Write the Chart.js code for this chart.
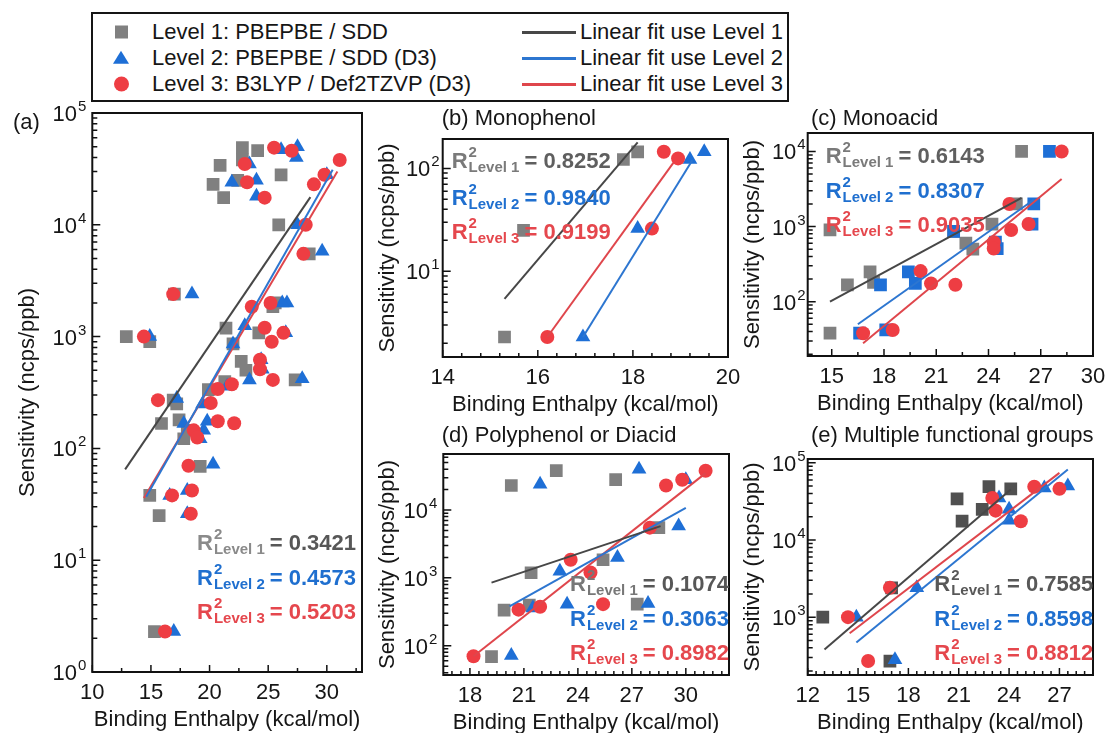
<!DOCTYPE html>
<html>
<head>
<meta charset="utf-8">
<script src="https://cdn.jsdelivr.net/npm/chart.js@4.4.1/dist/chart.umd.min.js"></script>
<style>
    body { margin: 0; background: #fff; }
    #page { position: relative; width: 1107px; height: 733px; overflow: hidden; background: #fff;
            font-family: "Liberation Sans", Arial, sans-serif; color: #161616; }
    canvas { position: absolute; }
    .txt { position: absolute; font-size: 22px; line-height: 22px; white-space: nowrap; }
    #legend { position: absolute; left: 91px; top: 12px; width: 694px; height: 86px; border: 2px solid #151515; }
    .mk { position: absolute; }
    .ln { position: absolute; height: 3px; width: 54px; }
</style>
</head>
<body>
<div id="page">
    <div id="legend"></div>
</div>
<script>
// values: [binding enthalpy (kcal/mol), sensitivity (ncps/ppb)]
const levelNames = ['Level 1: PBEPBE / SDD', 'Level 2: PBEPBE / SDD (D3)', 'Level 3: B3LYP / Def2TZVP (D3)'];
const fitNames = ['Linear fit use Level 1', 'Linear fit use Level 2', 'Linear fit use Level 3'];

const monophenolL1 = [[15.3, 2.3], [15.7, 25], [17.8, 122], [18.1, 145]];
const monophenolL2 = [[16.95, 2.3], [18.1, 26], [19.2, 122], [19.5, 145]];
const monophenolL3 = [[16.2, 2.3], [18.4, 26], [18.65, 145], [18.95, 125]];

const monoacidL1 = [[14.9, 900], [14.9, 38], [15.9, 167], [17.2, 250], [17.4, 180], [22.0, 860], [22.7, 600], [23.1, 500], [24.2, 1080], [25.6, 2000], [25.9, 10000]];
const monoacidL2 = [[16.6, 38], [18.1, 42], [17.8, 167], [19.4, 250], [19.8, 175], [22.0, 860], [24.4, 620], [24.5, 510], [26.5, 1080], [26.6, 2000], [27.5, 10000]];
const monoacidL3 = [[16.8, 38], [18.5, 42], [20.1, 255], [20.7, 175], [22.1, 168], [24.3, 620], [24.3, 510], [25.2, 2000], [25.3, 900], [26.3, 1080], [28.2, 10000]];

const polyL1 = [[20.3, 23000], [22.8, 38000], [26.1, 28000], [21.4, 1190], [19.9, 335], [21.3, 395], [19.2, 69], [25.4, 1850], [28.5, 5500], [27.3, 410]];
const polyL2 = [[21.9, 24000], [27.4, 40000], [30.0, 28000], [23.0, 1250], [26.2, 2000], [29.6, 5800], [21.5, 360], [23.4, 410], [27.9, 420], [20.3, 72]];
const polyL3 = [[18.2, 70], [20.7, 340], [21.9, 375], [23.6, 1850], [24.7, 1200], [25.4, 410], [28.0, 5500], [28.9, 23000], [29.8, 28000], [31.1, 38000]];

const multiL1 = [[12.9, 1000], [17.0, 2400], [16.9, 270], [20.9, 34000], [21.2, 17500], [22.4, 25000], [22.8, 49000], [24.1, 46000]];
const multiL2 = [[14.9, 1000], [18.5, 2400], [17.2, 280], [23.4, 35000], [24.0, 25000], [24.0, 18000], [26.1, 47000], [27.5, 50000]];
const multiL3 = [[14.4, 1000], [16.9, 2400], [15.6, 270], [23.0, 35000], [23.2, 24000], [24.7, 17500], [25.5, 49000], [27.0, 46000]];

// fit line end points (Level 1, 2, 3)
const allFits = [[[12.8, 65], [28.6, 17700]], [[14.6, 37], [30.5, 31000]], [[14.4, 36], [30.9, 30000]]];
const monophenolFits = [[[15.3, 5.4], [18.1, 179]], [[16.95, 2.3], [19.25, 120]], [[16.2, 2.3], [18.85, 113]]];
const monoacidFits = [[[14.9, 100], [25.9, 2400]], [[16.5, 50], [26.6, 2270]], [[16.8, 28], [28.2, 4300]]];
const polyFits = [[[19.2, 850], [28.6, 5800]], [[20.2, 380], [30.0, 10800]], [[18.2, 70], [31.1, 35000]]];
const multiFits = [[[13.0, 380], [24.1, 45000]], [[14.9, 470], [27.5, 82000]], [[14.5, 620], [27.0, 74000]]];

const allR2 = ['0.3421', '0.4573', '0.5203'];
const monophenolR2 = ['0.8252', '0.9840', '0.9199'];
const monoacidR2 = ['0.6143', '0.8307', '0.9035'];
const polyR2 = ['0.1074', '0.3063', '0.8982'];
const multiR2 = ['0.7585', '0.8598', '0.8812'];

const FONT = '"Liberation Sans", Arial, sans-serif';
const GRAY = '#808080', BLUE = '#1e6fd6', RED = '#ee3d43';
const LINE = ['#474747', '#2d76d0', '#df464c'];
const TXT2 = '#1f6fcf', TXT3 = '#e5474d';

Chart.defaults.font.family = FONT;
Chart.defaults.animation = false;

const page = document.getElementById('page');

// legend
const legend = document.getElementById('legend');
const rowY = [18, 44, 70];
const markerHtml = [
    '<div class="mk" style="left:22px;width:13px;height:13px;background:' + GRAY + ';transform:translateY(-50%)"></div>',
    '<div class="mk" style="left:20px;width:0;height:0;border-left:8px solid transparent;border-right:8px solid transparent;border-bottom:13px solid ' + BLUE + ';transform:translateY(-55%)"></div>',
    '<div class="mk" style="left:21px;width:15px;height:15px;border-radius:50%;background:' + RED + ';transform:translateY(-50%)"></div>'
];
levelNames.forEach((name, i) => {
    const m = document.createElement('div');
    m.style.cssText = 'position:absolute;left:0;top:' + rowY[i] + 'px';
    m.innerHTML = markerHtml[i];
    legend.appendChild(m);
    const t = document.createElement('div');
    t.className = 'txt';
    t.style.left = '59px'; t.style.top = (rowY[i] - 11) + 'px';
    t.textContent = name;
    legend.appendChild(t);
});
fitNames.forEach((name, i) => {
    const l = document.createElement('div');
    l.className = 'ln';
    l.style.left = '429px'; l.style.top = (rowY[i] - 1) + 'px'; l.style.background = LINE[i];
    legend.appendChild(l);
    const t = document.createElement('div');
    t.className = 'txt';
    t.style.left = '487px'; t.style.top = (rowY[i] - 11) + 'px';
    t.textContent = name;
    legend.appendChild(t);
});

function addText(str, left, cy) {
    const t = document.createElement('div');
    t.className = 'txt';
    t.style.left = left + 'px'; t.style.top = (cy - 11) + 'px';
    t.textContent = str;
    page.appendChild(t);
}

const toXY = arr => arr.map(p => ({ x: p[0], y: p[1] }));

function drawR2(ctx, x, yc, lvl, val, cR, cV) {
    ctx.textAlign = 'left';
    ctx.textBaseline = 'alphabetic';
    ctx.font = 'bold 22px ' + FONT;
    ctx.fillStyle = cR;
    ctx.fillText('R', x, yc + 8);
    const rw = ctx.measureText('R').width + 1;
    ctx.font = 'bold 15px ' + FONT;
    ctx.fillText('2', x + rw, yc - 3);
    const sub = 'Level ' + lvl;
    ctx.fillText(sub, x + rw, yc + 12);
    const lw = ctx.measureText(sub).width;
    ctx.font = 'bold 22px ' + FONT;
    ctx.fillStyle = cV;
    ctx.fillText('= ' + val, x + rw + lw + 5, yc + 8);
}

function makePanel(p) {
    const pt = 12, pr = 26, xH = 62;
    const yW = p.box[0] - p.canvasLeft;
    const cv = document.createElement('canvas');
    cv.width = Math.round(yW + p.box[2] - p.box[0] + pr);
    cv.height = Math.round(pt + p.box[3] - p.box[1] + xH);
    cv.style.left = p.canvasLeft + 'px';
    cv.style.top = (p.box[1] - pt) + 'px';
    page.appendChild(cv);

    const datasets = [];
    p.fits.forEach((f, i) => datasets.push({
        data: toXY(f), showLine: true, borderColor: LINE[i], borderWidth: 2,
        pointRadius: 0, order: 1
    }));
    datasets.push({ data: toXY(p.l3), pointStyle: 'circle', pointRadius: 7, backgroundColor: RED, borderWidth: 0, order: 2 });
    if (p.l2Square) {
        datasets.push({ data: toXY(p.l2), pointStyle: 'rect', pointRadius: 9, backgroundColor: BLUE, borderWidth: 0, order: 3 });
    } else {
        datasets.push({ data: toXY(p.l2), pointStyle: 'triangle', pointRadius: 8.5, backgroundColor: BLUE, borderWidth: 0, order: 3 });
    }
    datasets.push({ data: toXY(p.l1), pointStyle: 'rect', pointRadius: 9, backgroundColor: p.l1Color, borderWidth: 0, order: 4 });

    const frame = {
        id: 'frame',
        afterDraw(chart) {
            const { ctx, chartArea: a, scales: { x, y } } = chart;
            ctx.save();
            ctx.strokeStyle = '#111';
            ctx.lineWidth = 1.5;
            ctx.beginPath();
            const n0 = Math.ceil(x.min / p.xMinor - 1e-6), n1 = Math.floor(x.max / p.xMinor + 1e-6);
            for (let n = n0; n <= n1; n++) {
                const v = n * p.xMinor;
                const px = x.getPixelForValue(v);
                const major = p.xTicks.some(t => Math.abs(t - v) < 1e-6);
                ctx.moveTo(px, a.bottom); ctx.lineTo(px, a.bottom - (major ? 7 : 4));
            }
            const e0 = Math.floor(Math.log10(y.min)), e1 = Math.ceil(Math.log10(y.max));
            for (let e = e0; e <= e1; e++) {
                for (let k = 1; k < 10; k++) {
                    const v = k * Math.pow(10, e);
                    if (v < y.min * 0.999 || v > y.max * 1.001) continue;
                    const py = y.getPixelForValue(v);
                    ctx.moveTo(a.left, py); ctx.lineTo(a.left + (k === 1 ? 8 : 5), py);
                }
            }
            ctx.stroke();
            ctx.lineWidth = 2;
            ctx.strokeRect(a.left, a.top, a.right - a.left, a.bottom - a.top);

            // decade labels 10^n
            ctx.fillStyle = '#161616';
            ctx.textAlign = 'right';
            ctx.textBaseline = 'alphabetic';
            for (let e = e0; e <= e1; e++) {
                const v = Math.pow(10, e);
                if (v < y.min * 0.999 || v > y.max * 1.001) continue;
                const py = y.getPixelForValue(v);
                const xr = a.left - p.labelGap;
                ctx.font = '15px ' + FONT;
                const ew = ctx.measureText(String(e)).width;
                ctx.fillText(String(e), xr, py - 2);
                ctx.font = '22px ' + FONT;
                ctx.fillText('10', xr - ew - 1, py + 8);
            }

            // R^2 annotations
            const ox = cv.offsetLeft, oy = cv.offsetTop;
            drawR2(ctx, p.r2x - ox, p.r2y[0] - oy, 1, p.r2[0], p.r2c1[0], p.r2c1[1]);
            drawR2(ctx, p.r2x - ox, p.r2y[1] - oy, 2, p.r2[1], TXT2, TXT2);
            drawR2(ctx, p.r2x - ox, p.r2y[2] - oy, 3, p.r2[2], TXT3, TXT3);
            ctx.restore();
        }
    };

    new Chart(cv.getContext('2d'), {
        type: 'scatter',
        data: { datasets: datasets },
        options: {
            responsive: false,
            devicePixelRatio: 1,
            animation: false,
            layout: { padding: { left: 0, top: pt, right: pr, bottom: 0 }, autoPadding: false },
            plugins: { legend: { display: false }, tooltip: { enabled: false } },
            scales: {
                x: {
                    type: 'linear', min: p.xRange[0], max: p.xRange[1],
                    afterBuildTicks: s => { s.ticks = p.xTicks.map(v => ({ value: v })); },
                    afterFit: s => { s.height = xH; },
                    grid: { display: false, drawTicks: false },
                    border: { display: false },
                    ticks: { font: { size: 22 }, color: '#161616', padding: 8, maxRotation: 0, autoSkip: false },
                    title: { display: true, text: 'Binding Enthalpy (kcal/mol)', font: { size: 22 }, color: '#161616',
                             padding: { top: 0, bottom: xH - 48 - 13.2 } }
                },
                y: {
                    type: 'logarithmic', min: p.yRange[0], max: p.yRange[1],
                    afterFit: s => { s.width = yW; },
                    grid: { display: false, drawTicks: false },
                    border: { display: false },
                    ticks: { display: false },
                    title: { display: true, text: 'Sensitivity (ncps/ppb)', font: { size: 22 }, color: '#161616',
                             padding: { top: p.yTitleX - p.canvasLeft - 13.2, bottom: 0 } }
                }
            }
        },
        plugins: [frame]
    });
}

const allL1 = [].concat(monophenolL1, monoacidL1, polyL1, multiL1);
const allL2 = [].concat(monophenolL2, monoacidL2, polyL2, multiL2);
const allL3 = [].concat(monophenolL3, monoacidL3, polyL3, multiL3);

makePanel({ canvasLeft: 0, box: [92.3, 113.3, 361.7, 672.7], xRange: [10, 33], yRange: [1, 1e5],
    xTicks: [10, 15, 20, 25, 30], xMinor: 2.5, labelGap: 6, yTitleX: 28,
    l1: allL1, l2: allL2, l3: allL3, l1Color: GRAY, fits: allFits, r2: allR2,
    r2x: 197, r2y: [542, 577, 611], r2c1: ['#8a8a8a', '#575757'] });
makePanel({ canvasLeft: 370, box: [442.7, 139, 728.3, 356.7], xRange: [14, 20], yRange: [1.47, 193],
    xTicks: [14, 16, 18, 20], xMinor: 0.4, labelGap: 3, yTitleX: 388,
    l1: monophenolL1, l2: monophenolL2, l3: monophenolL3, l1Color: GRAY, fits: monophenolFits, r2: monophenolR2,
    r2x: 451.7, r2y: [160, 196.7, 231], r2c1: ['#7a7a7a', '#5f5f5f'] });
makePanel({ canvasLeft: 735, box: [807.7, 133.3, 1093.3, 356], xRange: [13.62, 30], yRange: [18.9, 17600],
    xTicks: [15, 18, 21, 24, 27, 30], xMinor: 1.5, labelGap: 2, yTitleX: 753,
    l1: monoacidL1, l2: monoacidL2, l3: monoacidL3, l2Square: true, l1Color: GRAY, fits: monoacidFits, r2: monoacidR2,
    r2x: 825.7, r2y: [155, 190, 224], r2c1: ['#7a7a7a', '#5f5f5f'] });
makePanel({ canvasLeft: 370, box: [443.3, 454, 729, 675], xRange: [16.52, 32.4], yRange: [37, 67000],
    xTicks: [18, 21, 24, 27, 30], xMinor: 0.5, labelGap: 6, yTitleX: 388,
    l1: polyL1, l2: polyL2, l3: polyL3, l1Color: GRAY, fits: polyFits, r2: polyR2,
    r2x: 570, r2y: [583.3, 618.3, 652.3], r2c1: ['#777777', '#575757'] });
makePanel({ canvasLeft: 735, box: [807.7, 459.3, 1093.3, 675], xRange: [12, 29], yRange: [178, 112000],
    xTicks: [12, 15, 18, 21, 24, 27], xMinor: 0.5, labelGap: 2, yTitleX: 753,
    l1: multiL1, l2: multiL2, l3: multiL3, l1Color: '#505050', fits: multiFits, r2: multiR2,
    r2x: 934.3, r2y: [583.3, 618.3, 651.7], r2c1: ['#585858', '#585858'] });

addText('(a)', 13, 122);
addText('(b) Monophenol', 441.7, 118.3);
addText('(c) Monoacid', 811, 118);
addText('(d) Polyphenol or Diacid', 441.7, 435);
addText('(e) Multiple functional groups', 811, 435);
</script>
</body>
</html>
